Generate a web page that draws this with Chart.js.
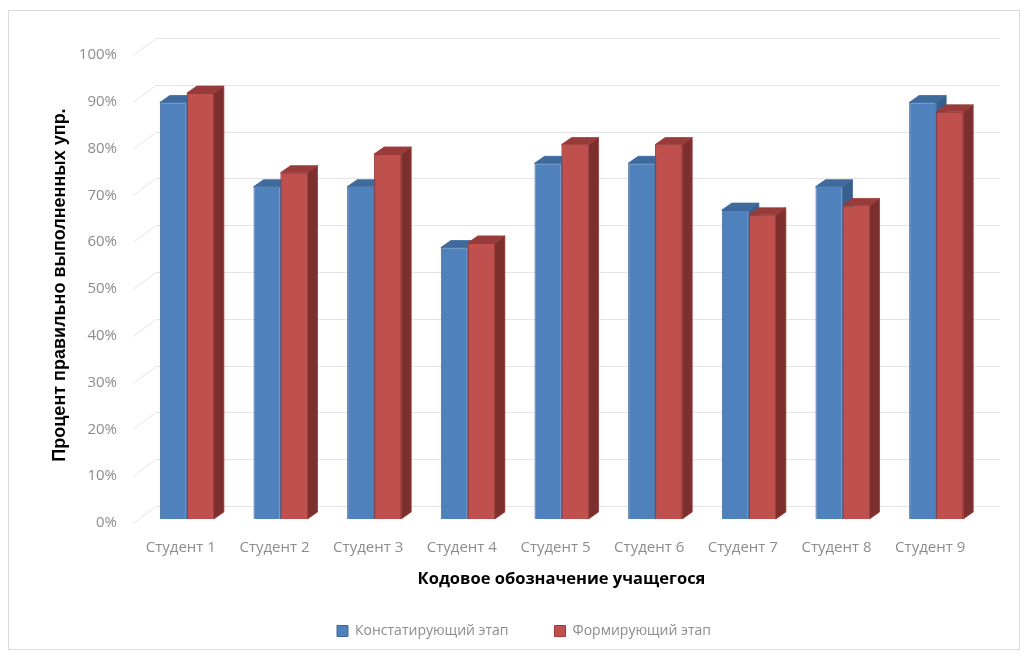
<!DOCTYPE html>
<html>
<head>
<meta charset="utf-8">
<script src="https://cdn.jsdelivr.net/npm/chart.js@4"></script>
<style>
  html, body { margin: 0; padding: 0; background: #fff; }
  #wrap { width: 1027px; height: 658px; }
</style>
</head>
<body>
<div id="wrap"><canvas id="chart"></canvas></div>
<script>
const students = ['Студент 1', 'Студент 2', 'Студент 3', 'Студент 4', 'Студент 5',
    'Студент 6', 'Студент 7', 'Студент 8', 'Студент 9'];
const stageA = [89, 71, 71, 58, 76, 76, 66, 71, 89];   // Констатирующий этап
const stageB = [91, 74, 78, 59, 80, 80, 65, 67, 87];   // Формирующий этап
const yTicks = [0, 10, 20, 30, 40, 50, 60, 70, 80, 90, 100];

const tickColor = '#8c8c8c';
const depth = {dx: 10, dy: -7};

// frame + white background
const frame = {
    id: 'frame',
    beforeDraw(chart) {
        const ctx = chart.ctx;
        ctx.save();
        ctx.fillStyle = '#fff';
        ctx.fillRect(0, 0, chart.width, chart.height);
        ctx.strokeStyle = '#d9d9d9';
        ctx.lineWidth = 1;
        ctx.strokeRect(8.5, 10.5, 1011, 639);
        ctx.restore();
    }
};

// back wall gridlines with the slanted floor edge
const backWall = {
    id: 'backWall',
    beforeDatasetsDraw(chart) {
        const ctx = chart.ctx, ys = chart.scales.y, area = chart.chartArea;
        ctx.save();
        ctx.strokeStyle = '#e4e4e4';
        ctx.lineWidth = 1;
        ys.ticks.forEach(t => {
            const py = Math.round(ys.getPixelForValue(t.value)) + 0.5;
            ctx.beginPath();
            ctx.moveTo(area.left - 7, py + 4);
            ctx.lineTo(area.left + 16, py - 13);
            ctx.lineTo(area.right + 17, py - 13);
            ctx.stroke();
        });
        ctx.restore();
    }
};

function poly(ctx, pts, fill, stroke) {
    ctx.beginPath();
    ctx.moveTo(pts[0][0], pts[0][1]);
    for (let i = 1; i < pts.length; i++) ctx.lineTo(pts[i][0], pts[i][1]);
    ctx.closePath();
    ctx.fillStyle = fill;
    ctx.fill();
    ctx.strokeStyle = stroke;
    ctx.lineWidth = 0.8;
    ctx.stroke();
}

function faces(ctx, bar, ds) {
    const {x, y, base, width} = bar.getProps(['x', 'y', 'base', 'width'], true);
    const l = x - width / 2, r = x + width / 2;
    const {dx, dy} = depth;
    poly(ctx, [[r, y], [r + dx, y + dy], [r + dx, base + dy], [r, base]], ds.sideColor, ds.borderColor);
    poly(ctx, [[l, y], [l + dx, y + dy], [r + dx, y + dy], [r, y]], ds.topColor, ds.borderColor);
}

// top and right faces; the right-hand column of each pair sits in front
const columns3d = {
    id: 'columns3d',
    afterDatasetsDraw(chart) {
        const ctx = chart.ctx;
        const [dsA, dsB] = chart.data.datasets;
        const metaA = chart.getDatasetMeta(0), metaB = chart.getDatasetMeta(1);
        ctx.save();
        metaA.data.forEach((barA, i) => {
            const barB = metaB.data[i];
            faces(ctx, barA, dsA);
            barB.draw(ctx);
            faces(ctx, barB, dsB);
        });
        ctx.restore();
    }
};

new Chart(document.querySelector('#chart').getContext('2d'), {
    type: 'bar',
    data: {
        labels: students,
        datasets: [
            {
                label: 'Констатирующий этап',
                data: stageA,
                backgroundColor: '#4f81bd',
                borderColor: '#3b679c',
                topColor: '#3e6a9d',
                sideColor: '#385f8e',
                borderWidth: 1
            },
            {
                label: 'Формирующий этап',
                data: stageB,
                backgroundColor: '#c0504d',
                borderColor: '#9b3a38',
                topColor: '#973c3a',
                sideColor: '#7d2f2e',
                borderWidth: 1
            }
        ]
    },
    options: {
        responsive: true,
        maintainAspectRatio: false,
        animation: false,
        categoryPercentage: 0.577,
        barPercentage: 1.0,
        layout: { padding: { top: 51, right: 44, bottom: 10, left: 65 } },
        plugins: {
            tooltip: { enabled: false },
            legend: {
                position: 'bottom',
                labels: {
                    color: tickColor,
                    font: { family: '"Open Sans", sans-serif', size: 14 },
                    boxWidth: 11,
                    boxHeight: 11,
                    padding: 46
                }
            }
        },
        scales: {
            x: {
                grid: { display: false, drawTicks: false },
                border: { display: false },
                ticks: {
                    color: tickColor,
                    font: { family: '"Open Sans", sans-serif', size: 15 },
                    padding: 20,
                    labelOffset: -6,
                    maxRotation: 0
                },
                title: {
                    display: true,
                    text: 'Кодовое обозначение учащегося',
                    color: '#000',
                    font: { family: '"Open Sans", sans-serif', size: 16.5, weight: 'bold' },
                    padding: { top: 0, bottom: -11 }
                },
                afterFit(scale) { scale.height = 59; }
            },
            y: {
                min: 0,
                max: 100,
                afterBuildTicks(scale) { scale.ticks = yTicks.map(v => ({value: v})); },
                grid: { display: false, drawTicks: false },
                border: { display: false },
                ticks: {
                    color: tickColor,
                    font: { family: '"Open Sans", sans-serif', size: 15 },
                    padding: 23,
                    labelOffset: 4,
                    callback: v => v + '%'
                },
                title: {
                    display: true,
                    text: 'Процент правильно выполненных упр.',
                    color: '#000',
                    font: { family: '"Liberation Sans", Arial, sans-serif', size: 18, weight: 'bold' },
                    padding: { top: -16, bottom: 0 }
                },
                afterFit(scale) { scale.width = 75; }
            }
        }
    },
    plugins: [frame, backWall, columns3d]
});
</script>
</body>
</html>
